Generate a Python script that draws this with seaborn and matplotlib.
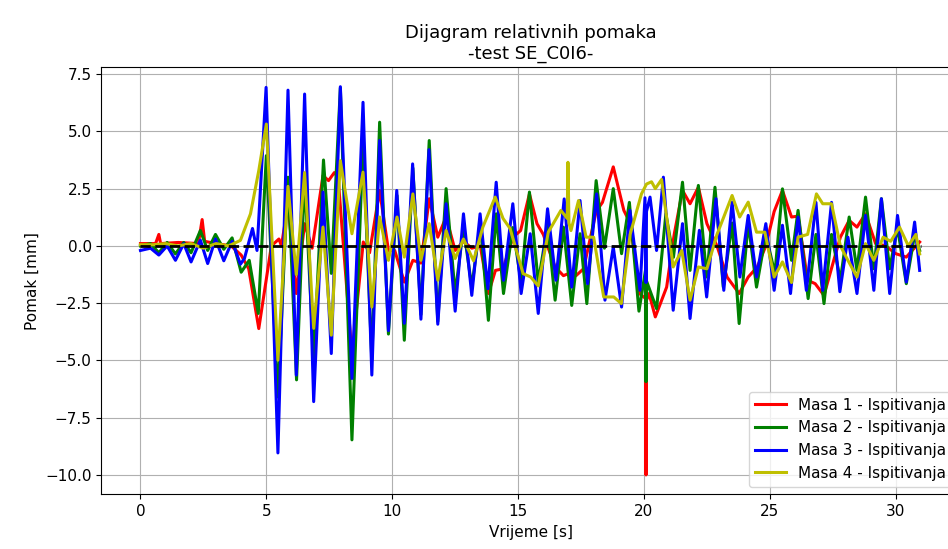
import matplotlib
matplotlib.use("Agg")
import matplotlib.pyplot as plt
import seaborn as sns

# Masa 1 (red)
t_m1 = [0, 0.6, 0.73, 0.8, 1.5, 2.3, 2.45, 2.55, 3.0, 3.6, 4.0, 4.3, 4.7, 5.2, 5.5, 5.6, 5.86, 6.19,
        6.52, 6.82, 7.25, 7.47, 7.7, 7.85, 8.4, 8.85, 9.1, 9.5, 9.85, 10.1, 10.48, 10.82, 11.14, 11.47,
        11.81, 12.14, 12.5, 12.83, 13.16, 13.5, 13.82, 14.1, 14.4, 14.8, 15.1, 15.45, 15.75, 16.0, 16.47,
        16.8, 17.0, 17.3, 17.6, 18.1, 18.35, 18.78, 19.2, 19.45, 19.84, 20.07, 20.08, 20.09, 20.2, 20.45,
        20.9, 21.2, 21.53, 21.83, 22.16, 22.5, 22.9, 23.3, 23.78, 24.14, 24.5, 24.84, 25.17, 25.5, 25.86,
        26.12, 26.5, 26.8, 27.15, 27.5, 27.8, 28.15, 28.46, 28.8, 29.2, 29.6, 30.0, 30.42, 30.95]
v_m1 = [0.1, 0.1, 0.5, 0.1, 0.15, 0.1, 1.15, 0.2, 0.1, 0.0, -0.4, -1.0, -3.61, 0.0, 0.3, 0.0, 1.84, -2.08,
        0.97, -0.1, 3.07, 2.85, 3.2, 3.0, -4.77, 0.17, -0.3, 2.42, -0.2, -0.2, -1.58, -0.63, -0.75, 2.06,
        0.38, 1.26, -0.2, 0.2, -0.1, 0.0, -2.08, -1.07, -1.0, 0.38, 0.67, 2.27, 0.97, 0.5, -0.92,
        -1.3, -1.21, -1.3, -1.0, 1.5, 1.9, 3.45, 1.55, 1.0, -2.1, -2.3, -10.0, -2.4, -2.08, -3.1,
        -1.8, 0.5, 2.42, 1.84, 2.56, 0.97, 0.0, -1.36, -2.08, -1.36, -0.92, 0.0, 1.5, 2.42, 1.26,
        1.3, -1.5, -1.65, -2.16, -0.78, 0.38, 1.11, 0.82, 1.4, 0.1, 0.0, -0.34, -0.49, 0.17]

# Masa 2 (green)
t_m2 = [0, 0.4, 0.73, 1.06, 1.39, 1.72, 2.01, 2.38, 2.67, 2.98, 3.31, 3.64, 4.0, 4.32, 4.68, 5.0, 5.46,
        5.86, 6.2, 6.52, 6.88, 7.27, 7.58, 7.94, 8.4, 8.84, 9.19, 9.5, 9.85, 10.19, 10.48, 10.82, 11.14,
        11.47, 11.81, 12.14, 12.5, 12.83, 13.16, 13.5, 13.82, 14.13, 14.42, 14.79, 15.12, 15.45, 15.8,
        16.17, 16.47, 16.8, 17.13, 17.46, 17.73, 18.1, 18.43, 18.78, 19.11, 19.42, 19.8, 20.07, 20.08,
        20.09, 20.5, 20.87, 21.17, 21.53, 21.83, 22.16, 22.49, 22.82, 23.15, 23.5, 23.78, 24.14, 24.47,
        24.84, 25.2, 25.5, 25.86, 26.12, 26.52, 26.83, 27.15, 27.45, 27.8, 28.15, 28.46, 28.8, 29.13,
        29.43, 29.76, 30.07, 30.42, 30.75, 30.95]
v_m2 = [0.0, 0.1, -0.3, 0.15, -0.35, 0.15, -0.3, 0.67, -0.2, 0.5, -0.15, 0.35, -1.15, -0.63, -2.95, 3.94, -6.6,
        3.0, -5.85, 3.0, -5.0, 3.75, -1.2, 6.9, -8.47, 4.5, -5.0, 5.4, -3.85, 2.2, -4.12, 3.4, -3.0,
        4.6, -3.3, 2.5, -2.1, 0.8, -1.8, 1.0, -3.25, 1.4, -2.08, 0.8, -1.6, 2.35, -1.58,
        0.9, -2.37, 0.82, -2.6, 0.53, -2.52, 2.85, -0.1, 2.5, -0.34, 1.9, -2.85, -1.0, -5.93,
        -1.5, -2.74, 1.4, -0.5, 2.78, -1.07, 2.64, -1.36, 2.56, -1.8, 1.0, -3.39, 1.0, -1.8,
        0.5, -1.21, 2.49, -0.63, 1.55, -2.3, 0.5, -2.52, 0.5, -1.5, 1.26, -1.07, 2.13, -1.0,
        2.06, -1.0, 0.8, -1.65, 0.5, -0.2]

# Masa 3 (blue)
t_m3 = [0, 0.4, 0.73, 1.06, 1.39, 1.72, 2.01, 2.38, 2.67, 2.98, 3.31, 3.64, 3.97, 4.13, 4.45, 4.63, 4.99,
        5.46, 5.86, 6.19, 6.52, 6.88, 7.25, 7.58, 7.94, 8.40, 8.84, 9.19, 9.5, 9.85, 10.18, 10.48, 10.81,
        11.14, 11.46, 11.81, 12.14, 12.5, 12.83, 13.16, 13.49, 13.8, 14.13, 14.42, 14.79, 15.12, 15.48,
        15.8, 16.17, 16.5, 16.83, 17.13, 17.46, 17.76, 18.12, 18.45, 18.78, 19.11, 19.44, 19.84, 20.04,
        20.08, 20.1, 20.24, 20.5, 20.77, 21.16, 21.53, 21.83, 22.2, 22.49, 22.86, 23.17, 23.5, 23.81,
        24.14, 24.47, 24.84, 25.17, 25.5, 25.82, 26.12, 26.45, 26.83, 27.1, 27.45, 27.78, 28.1, 28.46,
        28.8, 29.13, 29.43, 29.76, 30.07, 30.42, 30.75, 30.95]
v_m3 = [-0.2, -0.1, -0.4, 0.0, -0.63, 0.1, -0.7, 0.25, -0.77, 0.3, -0.65, 0.2, -0.8, -0.55, 0.76, -0.2, 6.92,
        -9.04, 6.8, -5.64, 6.63, -6.8, 2.35, -4.7, 6.95, -5.79, 6.27, -5.64, 4.6, -3.7, 2.42, -3.38, 3.58,
        -3.2, 4.2, -3.42, 1.84, -2.85, 1.4, -2.16, 1.4, -1.87, 2.78, -1.5, 1.84, -2.08, 0.53,
        -2.95, 1.62, -1.5, 2.05, -1.8, 1.98, -1.65, 2.27, -2.37, -0.05, -2.67, 1.55, -1.94, 2.1,
        -1.6, 1.5, 2.13, -0.2, 3.0, -2.81, 0.97, -3.17, 0.68, -2.23, 2.06, -1.94, 1.91, -1.36,
        1.33, -1.36, 0.97, -1.94, 0.9, -2.08, 1.26, -1.94, 1.9, -1.94, 1.9, -2.0, 0.38, -2.08,
        1.33, -1.94, 2.06, -2.08, 1.33, -1.58, 1.04, -1.07]

# Masa 4 (yellow)
t_m4 = [0, 0.5, 1.0, 1.5, 2.0, 2.5, 3.0, 3.5, 3.97, 4.37, 4.7, 5.0, 5.46, 5.86, 6.19, 6.52, 6.88, 7.25,
        7.58, 7.94, 8.4, 8.84, 9.19, 9.5, 9.85, 10.19, 10.48, 10.82, 11.14, 11.47, 11.81, 12.14, 12.5,
        12.83, 13.23, 13.6, 14.09, 14.4, 14.68, 15.2, 15.5, 15.8, 16.2, 16.7, 16.95, 16.98, 17.02, 17.1,
        17.4, 17.7, 18.0, 18.4, 18.8, 19.1, 19.45, 19.9, 20.1, 20.3, 20.45, 20.7, 21.16, 21.5, 21.83,
        22.16, 22.5, 22.9, 23.5, 23.8, 24.14, 24.47, 24.8, 25.17, 25.5, 25.86, 26.12, 26.5, 26.85, 27.1,
        27.45, 27.8, 28.1, 28.46, 28.8, 29.13, 29.5, 29.8, 30.15, 30.5, 30.8, 30.95]
v_m4 = [0.05, 0.05, 0.1, 0.0, 0.1, -0.1, 0.1, 0.0, 0.24, 1.4, 3.29, 5.32, -4.99, 2.6, -1.25, 3.2, -3.6, 0.82,
        -3.9, 3.72, 0.53, 3.22, -2.67, 1.26, -0.63, 1.26, -0.49, 2.27, -0.63, 0.97, -1.5, 0.67, -0.55,
        0.3, -0.65, 0.82, 2.13, 1.2, 0.76, -1.21, -1.36, -1.75, 0.6, 1.55, 1.2, 3.65, 1.0, 0.67,
        1.98, 0.38, 0.38, -2.23, -2.23, -2.52, 0.5, 2.27, 2.7, 2.8, 2.5, 2.9, -0.92, -0.2, -2.37,
        -0.92, -1.0, 0.5, 2.2, 1.26, 1.91, 0.6, 0.6, -1.36, -0.7, -1.6, 0.38, 0.5, 2.27, 1.84,
        1.84, 0.0, -0.63, -1.36, 0.1, -0.63, 0.38, 0.2, 0.82, 0.0, 0.5, -0.35]

t_zero = [0, 31]
v_zero = [0, 0]

plt.rcParams['font.size'] = 11
fig = plt.figure(figsize=(9.48, 5.49), dpi=100)
ax = fig.add_axes([0.107, 0.0996, 0.9056, 0.7778])

sns.lineplot(x=t_m1, y=v_m1, color='r', lw=2.2, label='Masa 1 - Ispitivanja', estimator=None, sort=False, ax=ax)
sns.lineplot(x=t_m2, y=v_m2, color='g', lw=2.2, label='Masa 2 - Ispitivanja', estimator=None, sort=False, ax=ax)
sns.lineplot(x=t_m3, y=v_m3, color='b', lw=2.2, label='Masa 3 - Ispitivanja', estimator=None, sort=False, ax=ax)
sns.lineplot(x=t_m4, y=v_m4, color='y', lw=2.2, label='Masa 4 - Ispitivanja', estimator=None, sort=False, ax=ax)
sns.lineplot(x=t_zero, y=v_zero, color='k', lw=2, linestyle='--', estimator=None, ax=ax)

ax.grid(True)
ax.set_title("Dijagram relativnih pomaka\n-test SE_C0I6-", fontsize=13)
ax.set_xlabel("Vrijeme [s]")
ax.set_ylabel("Pomak [mm]")
ax.legend(loc='lower right')

fig.savefig("out.png", dpi=100)
